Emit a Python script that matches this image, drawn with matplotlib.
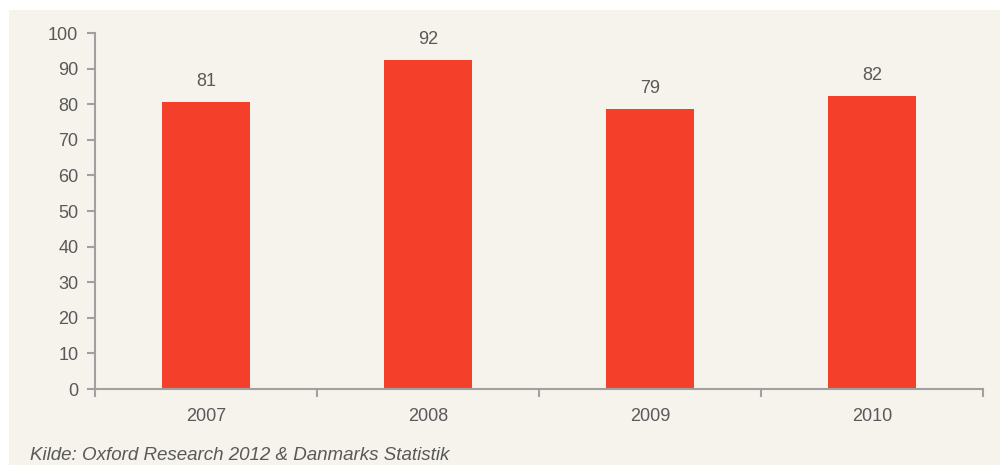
import matplotlib.pyplot as plt
from matplotlib.patches import Rectangle

years = ["2007", "2008", "2009", "2010"]
values = [80.6, 92.4, 78.6, 82.4]
source = "Kilde: Oxford Research 2012 & Danmarks Statistik"

bar_color = "#f4402a"
bg_color = "#f6f2ec"
text_color = "#595959"
axis_color = "#a0a0a0"

plt.rcParams["font.family"] = ["Liberation Sans", "DejaVu Sans"]

fig = plt.figure(figsize=(10, 4.65), dpi=100, facecolor="white")
fig.patches.append(Rectangle((0.009, 0), 0.991, 455 / 465, transform=fig.transFigure,
                             facecolor=bg_color, edgecolor="none", zorder=-10))

ax = fig.add_axes([0.095, 76 / 465, 0.888, 356 / 465])
ax.set_facecolor("none")

x = list(range(len(years)))
ax.bar(x, values, width=0.4, color=bar_color, zorder=2)
for xi, v in zip(x, values):
    ax.annotate(f"{v:.0f}", (xi, v), xytext=(0, 8.5), textcoords="offset points",
                ha="center", va="bottom", fontsize=13, color=text_color)

ax.set_xlim(-0.5, len(years) - 0.5)
ax.set_ylim(0, 100)
ax.set_yticks(range(0, 101, 10))

ax.set_xticks([i - 0.5 for i in range(len(years) + 1)])
ax.set_xticklabels([])
ax.set_xticks(x, minor=True)
ax.set_xticklabels(years, minor=True)
ax.tick_params(axis="x", which="major", direction="out", length=6, width=1.5, color=axis_color)
ax.tick_params(axis="x", which="minor", length=0, pad=14, labelsize=13, labelcolor=text_color)
ax.tick_params(axis="y", direction="out", length=6, width=1.5, color=axis_color,
               labelsize=13, labelcolor=text_color, pad=6)

for side in ["top", "right"]:
    ax.spines[side].set_visible(False)
for side in ["left", "bottom"]:
    ax.spines[side].set_color(axis_color)
    ax.spines[side].set_linewidth(1.5)

fig.text(0.03, 1 - 455 / 465, source, fontsize=13.5, style="italic",
         color=text_color, ha="left", va="center")

fig.savefig("out.png", dpi=100, facecolor="white")
plt.close(fig)
